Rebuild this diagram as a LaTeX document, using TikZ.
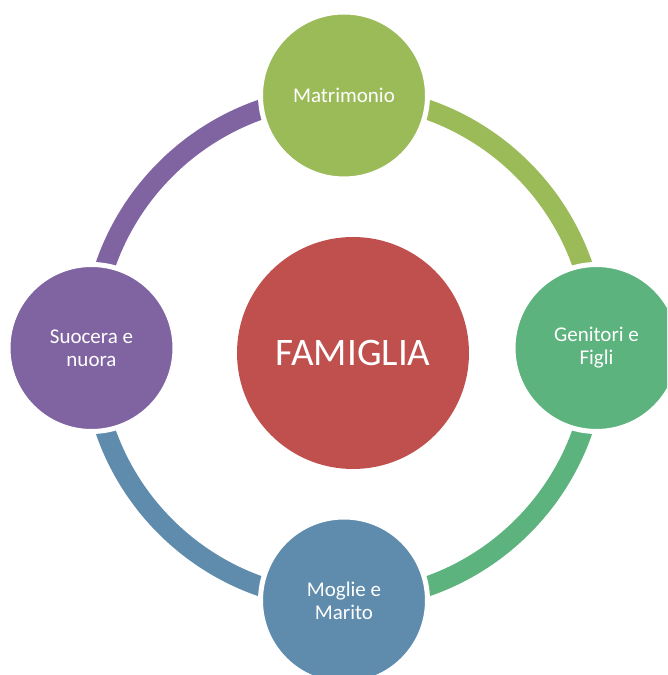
\documentclass[tikz,border=0pt]{standalone}
\usepackage{fontspec}
\setmainfont{Carlito}
\usetikzlibrary{backgrounds}
\definecolor{matgreen}{HTML}{9BBB59}
\definecolor{genigreen}{HTML}{5DB37E}
\definecolor{mogblue}{HTML}{5F8CAD}
\definecolor{suopurple}{HTML}{8064A2}
\definecolor{famred}{HTML}{C0504D}
\begin{document}
\begin{tikzpicture}[x=1pt,y=1pt,
  satellite/.style={circle, fill=#1, draw=white, line width=5pt,
    minimum size=167pt, inner sep=0pt, text=white, align=center,
    font=\fontsize{21}{23}\selectfont},
  hub/.style={circle, fill=famred, minimum size=232pt, inner sep=0pt,
    text=white, font=\fontsize{39}{44}\selectfont},
  ringarc/.style={draw=#1, line width=20pt}]
\useasboundingbox (0,0) rectangle (667,675);
\clip (0,0) rectangle (667,675);

% central hub
\node[hub] (fam) at (353,322) {FAMIGLIA};

% satellites on a ring of radius 252.5 around (344,327)
\node[satellite=matgreen]  (mat) at (344,579.5) {Matrimonio};
\node[satellite=genigreen] (gen) at (596.5,327) {Genitori e\\Figli};
\node[satellite=mogblue]   (mog) at (344,74.5)  {Moglie e\\Marito};
\node[satellite=suopurple] (suo) at (91.5,327)  {Suocera e\\nuora};

% ring segments behind the satellites
\begin{scope}[on background layer]
  \draw[ringarc=matgreen]  (mat.center) arc[start angle=90,  end angle=0,    radius=252.5];
  \draw[ringarc=genigreen] (gen.center) arc[start angle=0,   end angle=-90,  radius=252.5];
  \draw[ringarc=mogblue]   (mog.center) arc[start angle=-90, end angle=-180, radius=252.5];
  \draw[ringarc=suopurple] (suo.center) arc[start angle=180, end angle=90,   radius=252.5];
\end{scope}
\end{tikzpicture}
\end{document}
